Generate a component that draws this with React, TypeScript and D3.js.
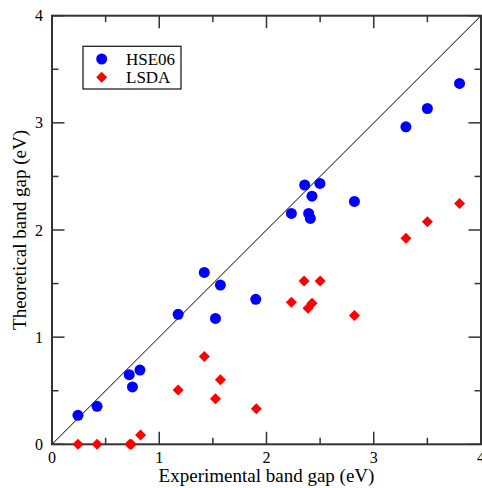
import React, { useEffect, useRef } from "react";
import * as d3 from "d3";

const hseX = [0.242, 0.42, 0.72, 0.75, 0.82, 1.176, 1.42, 1.57, 1.524, 1.90, 2.356, 2.498, 2.424, 2.232, 2.393, 2.409, 2.82, 3.30, 3.50, 3.80];
const hseY = [0.27, 0.354, 0.65, 0.535, 0.693, 1.213, 1.604, 1.486, 1.175, 1.353, 2.42, 2.435, 2.316, 2.155, 2.155, 2.108, 2.267, 2.963, 3.134, 3.368];
const lsdaX = [0.242, 0.42, 0.725, 0.74, 0.826, 1.176, 1.42, 1.57, 1.524, 1.905, 2.35, 2.50, 2.232, 2.424, 2.387, 2.82, 3.30, 3.50, 3.80];
const lsdaY = [0, 0, 0, 0, 0.087, 0.506, 0.82, 0.603, 0.425, 0.332, 1.523, 1.523, 1.325, 1.317, 1.27, 1.203, 1.924, 2.077, 2.248];
const majorTicks = [0, 1, 2, 3, 4];
const minorTicks = [0.5, 1.5, 2.5, 3.5];
const seriesNames = ["HSE06", "LSDA"];
const xTitle = "Experimental band gap (eV)";
const yTitle = "Theoretical band gap (eV)";

export default function App() {
  const ref = useRef<SVGSVGElement>(null);
  const W = 482, H = 488;
  const L = 52, R = 481, T = 15.7, B = 444.3;

  useEffect(() => {
    const svg = d3.select(ref.current);
    svg.selectAll("*").remove();
    const x = d3.scaleLinear().domain([0, 4]).range([L, R]);
    const y = d3.scaleLinear().domain([0, 4]).range([B, T]);
    const tickCol = "#333";
    const font = "serif";
    const diamond = (cx: number, cy: number, s: number) =>
      `M${cx},${cy - s}L${cx + s},${cy}L${cx},${cy + s}L${cx - s},${cy}Z`;

    svg.append("rect").attr("width", W).attr("height", H).attr("fill", "#fff");
    svg.append("line").attr("x1", x(0)).attr("y1", y(0)).attr("x2", x(4)).attr("y2", y(4))
      .attr("stroke", "#000").attr("stroke-width", 1);

    const tg = svg.append("g").attr("stroke", tickCol).attr("stroke-width", 1.5);
    const addTicks = (vals: number[], len: number) => {
      vals.forEach(t => {
        tg.append("line").attr("x1", x(t)).attr("x2", x(t)).attr("y1", B).attr("y2", B - len);
        tg.append("line").attr("x1", x(t)).attr("x2", x(t)).attr("y1", T).attr("y2", T + len);
        tg.append("line").attr("x1", L).attr("x2", L + len).attr("y1", y(t)).attr("y2", y(t));
        tg.append("line").attr("x1", R).attr("x2", R - len).attr("y1", y(t)).attr("y2", y(t));
      });
    };
    addTicks(majorTicks, 12.5);
    addTicks(minorTicks, 6.5);
    svg.append("rect").attr("x", L).attr("y", T).attr("width", R - L).attr("height", B - T)
      .attr("fill", "none").attr("stroke", tickCol).attr("stroke-width", 2);

    const txt = svg.append("g").style("font-family", font).attr("fill", "#000");
    majorTicks.forEach(t => {
      txt.append("text").attr("x", x(t)).attr("y", B + 19).attr("text-anchor", "middle")
        .style("font-size", "16px").style("font-family", font).text(String(t));
      txt.append("text").attr("x", L - 9).attr("y", y(t) + 5.5).attr("text-anchor", "end")
        .style("font-size", "16px").style("font-family", font).text(String(t));
    });
    txt.append("text").attr("x", (L + R) / 2).attr("y", 482).attr("text-anchor", "middle")
      .style("font-size", "19px").style("font-family", font).text(xTitle);
    txt.append("text").attr("transform", `translate(26,${(T + B) / 2}) rotate(-90)`)
      .attr("text-anchor", "middle").style("font-size", "19px").style("font-family", font).text(yTitle);

    svg.append("g").selectAll("circle").data(hseX).join("circle")
      .attr("cx", d => x(d)).attr("cy", (d, i) => y(hseY[i])).attr("r", 5.5).attr("fill", "#0000ff");
    svg.append("g").selectAll("path").data(lsdaX).join("path")
      .attr("d", (d, i) => diamond(x(d), y(lsdaY[i]), 5.5)).attr("fill", "#ff0000");

    svg.append("rect").attr("x", 83).attr("y", 46.3).attr("width", 98).attr("height", 42.7)
      .attr("fill", "#fff").attr("stroke", "#222").attr("stroke-width", 1.3);
    svg.append("circle").attr("cx", 101.7).attr("cy", 59).attr("r", 5.5).attr("fill", "#0000ff");
    svg.append("path").attr("d", diamond(101.7, 77.3, 5.5)).attr("fill", "#ff0000");
    svg.append("text").attr("x", 126).attr("y", 65).style("font-size", "17px").style("font-family", font)
      .attr("fill", "#000").text(seriesNames[0]);
    svg.append("text").attr("x", 126).attr("y", 83.3).style("font-size", "17px").style("font-family", font)
      .attr("fill", "#000").text(seriesNames[1]);
  }, []);

  return (
    <svg ref={ref} width={W} height={H} style={{ position: "absolute", left: 0, top: 0, background: "#fff" }} />
  );
}
